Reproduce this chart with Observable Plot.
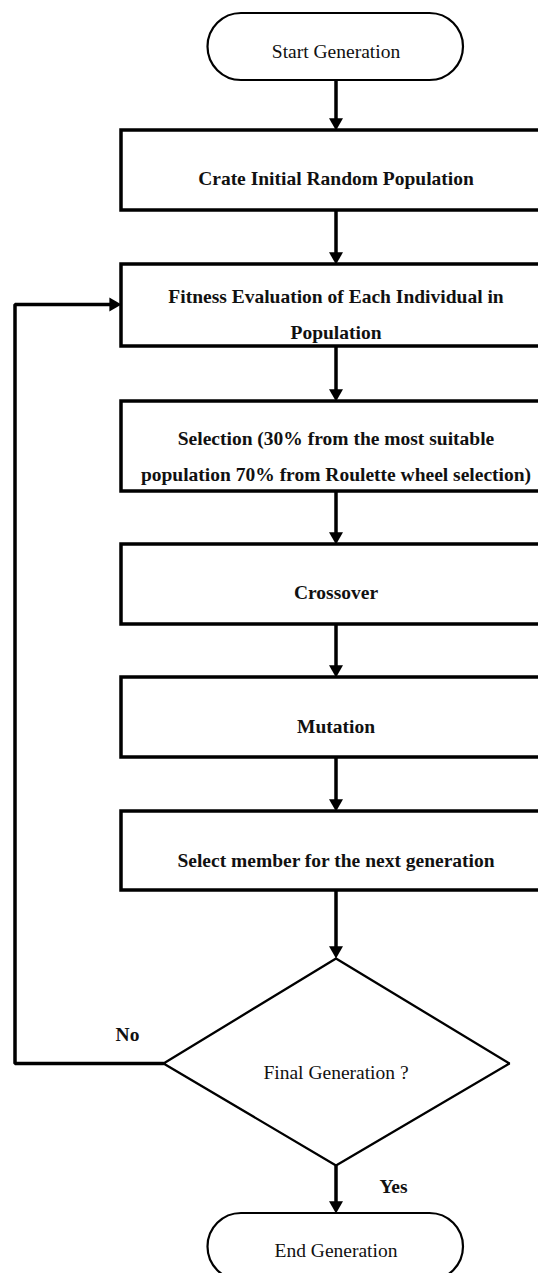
<!DOCTYPE html>
<html><head><meta charset="utf-8">
<script src="https://cdn.jsdelivr.net/npm/d3@7"></script>
<script src="https://cdn.jsdelivr.net/npm/@observablehq/plot@0.6"></script>
<style>body{margin:0;background:#fff} svg{display:block}</style>
</head><body><div id="chart"></div>
<script>
// ---- content ----
const steps = [
  "Start Generation",
  "Crate Initial Random Population",
  "Fitness Evaluation of Each Individual in\nPopulation",
  "Selection (30% from the most suitable\npopulation 70% from Roulette wheel selection)",
  "Crossover",
  "Mutation",
  "Select member for the next generation",
  "Final Generation ?",
  "End Generation"
];
const kinds = ["terminal","process","process","process","process","process","process","decision","terminal"];
const branchLabels = ["No", "Yes"];

// ---- layout (pixels) ----
const W = 538, H = 1273;
const cx = 335.5;
const procLeft = 121, procRight = 552;
const termLeft = 207.5, termRight = 463, termRadius = 33.5;
const tops    = [13, 130, 264, 401, 544, 677, 811, 958, 1213];
const bottoms = [80, 210, 346, 491, 624, 757, 890, 1165, 1280];
const textYs  = [51, 173, 309, 451, 587, 721, 855, 1072, 1250];
const diamondLeft = 163, diamondRight = 509, diamondMid = 1063;
const loopX = 14.5, loopY = 304;
const branchPos = [[127, 1034], [393, 1186]];
const headR = 5.2, headOff = 8.1;

const nodes = steps.map((label, i) => ({label, kind: kinds[i], top: tops[i], bottom: bottoms[i], ty: textYs[i]}));
const procs = nodes.filter(d => d.kind === "process");
const terms = nodes.filter(d => d.kind === "terminal");
const dec = nodes.find(d => d.kind === "decision");
const diamond = [
  {x: cx, y: dec.top}, {x: diamondRight, y: diamondMid},
  {x: cx, y: dec.bottom}, {x: diamondLeft, y: diamondMid}, {x: cx, y: dec.top}
];
const edges = nodes.slice(0, -1).map((d, i) => ({y1: d.bottom, y2: nodes[i + 1].top}));
const heads = edges.map(e => ({x: cx, y: e.y2 - headOff, rot: 180}));
heads.push({x: procLeft - headOff, y: loopY, rot: 90});
const loop = [
  {x: diamondLeft, y: diamondMid}, {x: loopX, y: diamondMid},
  {x: loopX, y: loopY}, {x: procLeft - headOff, y: loopY}
];
const branches = branchLabels.map((t, i) => ({text: t, x: branchPos[i][0], y: branchPos[i][1]}));

const font = "'Liberation Serif', 'Times New Roman', serif";
const chart = Plot.plot({
  width: W, height: H,
  margin: 0,
  x: {domain: [0, W], range: [0, W], axis: null},
  y: {domain: [0, H], range: [0, H], axis: null},
  style: {fontFamily: font, background: "white", color: "#111"},
  marks: [
    Plot.link(edges, {x1: () => cx, x2: () => cx, y1: "y1", y2: d => d.y2 - headOff, stroke: "black", strokeWidth: 3.5}),
    Plot.line(loop, {x: "x", y: "y", stroke: "black", strokeWidth: 3.5, strokeLinejoin: "miter"}),
    Plot.rect(procs, {x1: () => procLeft, x2: () => procRight, y1: "top", y2: "bottom", fill: "white", stroke: "black", strokeWidth: 3.5}),
    Plot.rect(terms, {x1: () => termLeft, x2: () => termRight, y1: "top", y2: "bottom", rx: termRadius, ry: termRadius, fill: "white", stroke: "black", strokeWidth: 2.2}),
    Plot.line(diamond, {x: "x", y: "y", stroke: "black", strokeWidth: 2.3, strokeLinejoin: "miter", fill: "white"}),
    Plot.dot(heads, {x: "x", y: "y", symbol: "triangle", r: headR, rotate: "rot", fill: "black", stroke: "none"}),
    Plot.text(procs, {x: () => cx, y: "ty", text: "label", fontSize: 19.5, fontWeight: "bold", lineHeight: 1.85, fill: "#111"}),
    Plot.text(nodes.filter(d => d.kind !== "process"), {x: () => cx, y: "ty", text: "label", fontSize: 19.5, fill: "#111"}),
    Plot.text(branches, {x: "x", y: "y", text: "text", fontSize: 19.5, fontWeight: "bold", fill: "#111"})
  ]
});
document.getElementById("chart").appendChild(chart);
</script>
</body></html>
